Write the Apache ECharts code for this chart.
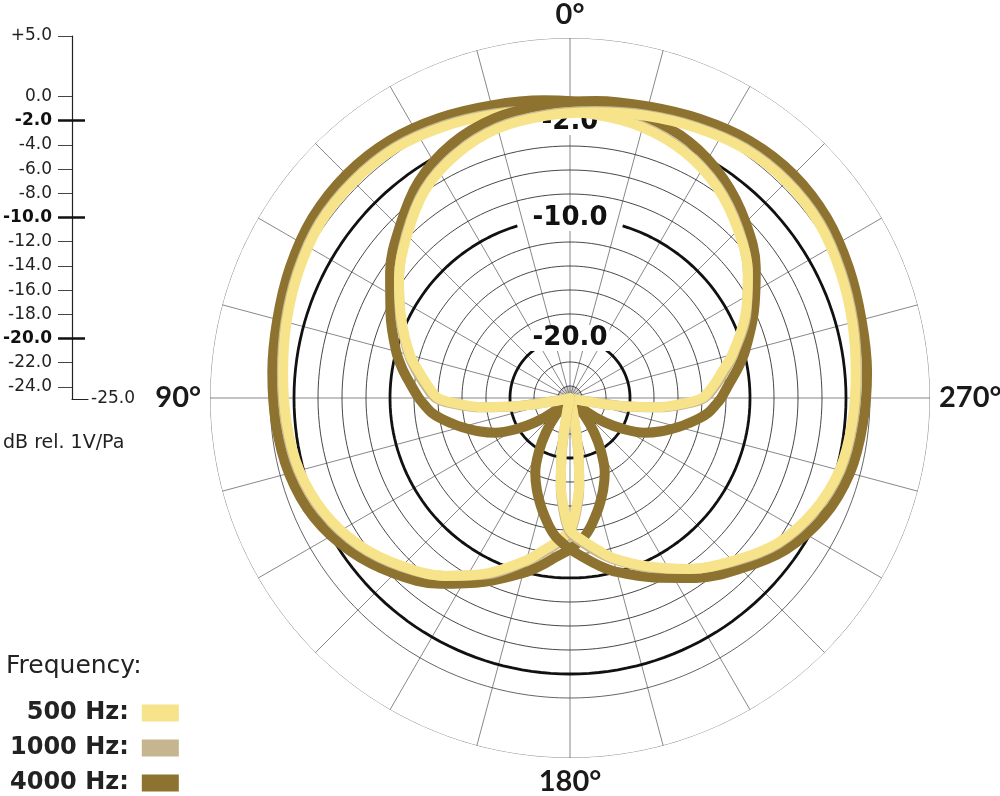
<!DOCTYPE html>
<html><head><meta charset="utf-8">
<script src="https://cdn.jsdelivr.net/npm/echarts@6/dist/echarts.min.js"></script>
<style>html,body{margin:0;padding:0;background:#fff}#c{width:1000px;height:796px}</style>
</head><body><div id="c"></div>
<script>
// Off-axis angle (degrees from capsule axis) and level (dB)
const offAxisAngles = [0, 10, 20, 30, 40, 50, 60, 70, 80, 90, 100, 110, 120, 125, 130, 135, 138, 141, 144, 147, 150, 155, 160, 165, 170, 175, 180];
// left capsule (aimed at 45°)
const level500Left   = [0.5, 0.4, -0.05, -0.55, -1.0, -1.3, -1.65, -2.4, -3.6, -5.2, -6.9, -8.9, -11.0, -12.1, -13.0, -14.0, -15.7, -17.7, -20.7, -23.8, -25, -25, -25, -25, -25, -25, -25];
const level1000Left  = [0.6, 0.5, 0.05, -0.45, -0.9, -1.2, -1.55, -2.3, -3.5, -5.1, -6.9, -8.8, -10.9, -11.9, -12.8, -13.8, -15.4, -17.6, -20.9, -24.2, -25, -25, -25, -25, -25, -25, -25];
const level4000Left  = [1.35, 1.2, 0.75, 0.25, -0.1, -0.4, -0.75, -1.45, -2.7, -4.3, -6.1, -8.1, -9.9, -10.8, -11.7, -12.4, -12.9, -13.4, -14.1, -14.9, -15.65, -16.9, -18.15, -19.8, -21.5, -23.2, -25.0];
// right capsule (aimed at 315°)
const level500Right  = [0.5, 0.35, -0.15, -0.65, -1.1, -1.4, -1.75, -2.6, -3.9, -5.8, -7.6, -9.5, -11.2, -12.2, -13.1, -14.0, -15.7, -17.7, -20.7, -23.8, -25, -25, -25, -25, -25, -25, -25];
const level1000Right = [0.6, 0.45, -0.05, -0.55, -1.0, -1.3, -1.65, -2.5, -3.8, -5.7, -7.6, -9.4, -11.1, -12.0, -12.9, -13.8, -15.4, -17.6, -20.9, -24.2, -25, -25, -25, -25, -25, -25, -25];
const level4000Right = [1.35, 1.15, 0.65, 0.15, -0.15, -0.5, -0.85, -1.65, -3.0, -4.9, -6.7, -8.5, -10.0, -10.8, -11.65, -12.4, -12.9, -13.4, -14.1, -14.9, -15.65, -16.9, -18.15, -19.8, -21.5, -23.2, -25.0];
const capsuleAxes = [45, 315];
const frequencies = ['500 Hz', '1000 Hz', '4000 Hz'];
const scaleTicks = [5, 0, -4, -6, -8, -12, -14, -16, -18, -22, -24];
const boldTicks = [-2, -10, -20];
const ringLevels = [-24, -22, -18, -16, -14, -12, -8, -6, -4, 0, 5];
const boldRings = [-20, -10, -2];
const boldRingGaps = [37, 17, 20];
const compassLabels = [0, 90, 180, 270];

const FONT = '"DejaVu Sans", sans-serif';
const colors = {'500 Hz': '#F7E38A', '1000 Hz': '#C5B690', '4000 Hz': '#8D7230'};
const capsuleLevels = [
  {'500 Hz': level500Left, '1000 Hz': level1000Left, '4000 Hz': level4000Left},
  {'500 Hz': level500Right, '1000 Hz': level1000Right, '4000 Hz': level4000Right}
];

function capsuleCurve(lv, axis) {
  const pts = [];
  for (let i = offAxisAngles.length - 1; i > 0; i--) pts.push([lv[i], ((axis - offAxisAngles[i]) % 360 + 360) % 360]);
  for (let i = 0; i < offAxisAngles.length; i++) pts.push([lv[i], ((axis + offAxisAngles[i]) % 360 + 360) % 360]);
  return pts;
}
function arc(r, from, to) {
  const d = [];
  for (let a = from; a <= to + 0.001; a += 2) d.push([r, a]);
  return d;
}

const series = [];
ringLevels.forEach(r => series.push({
  type: 'line', coordinateSystem: 'polar', polarIndex: 0, silent: true, z: 0,
  symbol: 'none', data: arc(r, 0, 360),
  lineStyle: {color: r === 5 ? '#777' : (r === 0 ? '#555' : '#333'), width: 0.9}
}));
boldRings.forEach((r, i) => series.push({
  type: 'line', coordinateSystem: 'polar', polarIndex: 0, silent: true, z: 0,
  symbol: 'none', data: arc(r, boldRingGaps[i], 360 - boldRingGaps[i]),
  lineStyle: {color: '#111', width: 2.8}
}));
let zc = 3;
capsuleAxes.forEach((ax, ci) => {
  ['4000 Hz', '1000 Hz', '500 Hz'].forEach(f => series.push({
    name: f, type: 'line', coordinateSystem: 'polar', polarIndex: 0, z: zc++,
    symbol: 'none', showSymbol: false, smooth: 0.35,
    data: capsuleCurve(capsuleLevels[ci][f], ax),
    itemStyle: {color: colors[f]},
    lineStyle: {color: colors[f], width: 10, cap: 'round', join: 'round'}
  }));
});

const option = {
  animation: false,
  backgroundColor: '#fff',
  textStyle: {fontFamily: FONT},
  title: [
    {text: 'dB rel. 1V/Pa', left: 3, top: 434, padding: 0, textStyle: {fontSize: 19, fontWeight: 'normal', color: '#222', fontFamily: FONT}},
    {text: 'Frequency:', left: 6, top: 654, padding: 0, textStyle: {fontSize: 25, fontWeight: 'normal', color: '#222', fontFamily: FONT}}
  ],
  legend: {
    data: frequencies, orient: 'vertical', left: 10, top: 701, padding: 0,
    align: 'right', icon: 'rect', itemWidth: 37, itemHeight: 17, itemGap: 11,
    formatter: n => '{a|' + n + ':}{s|}',
    textStyle: {fontFamily: FONT, color: '#222', rich: {
      a: {width: 118, align: 'right', fontSize: 24, fontWeight: 'bold', lineHeight: 26, color: '#222', fontFamily: FONT},
      s: {width: 8}
    }}
  },
  grid: {left: 70, top: 36, width: 18, height: 363},
  xAxis: {type: 'value', min: 0, max: 1, axisLine: {show: true, onZero: false, lineStyle: {color: '#222', width: 1.2}}, axisTick: {show: false}, axisLabel: {show: false}, splitLine: {show: false}},
  yAxis: [
    {type: 'value', min: -25, max: 5, position: 'left',
     axisLine: {show: true, onZero: false, lineStyle: {color: '#222', width: 1.2}},
     axisTick: {show: true, customValues: scaleTicks, length: 14, lineStyle: {color: '#444', width: 1}},
     axisLabel: {customValues: scaleTicks, margin: 20, fontSize: 17, color: '#222', fontFamily: FONT,
       formatter: v => (v > 0 ? '+' : '') + Number(v).toFixed(1)},
     splitLine: {show: false}},
    {type: 'value', min: -25, max: 5, position: 'left',
     axisLine: {show: false},
     axisTick: {show: true, customValues: boldTicks, length: 14, lineStyle: {color: '#111', width: 2.5}},
     axisLabel: {customValues: boldTicks, margin: 20, fontSize: 17, fontWeight: 'bold', color: '#111', fontFamily: FONT,
       formatter: v => Number(v).toFixed(1)},
     splitLine: {show: false}},
    {type: 'value', min: -25, max: 5, position: 'left',
     axisLine: {show: false},
     axisTick: {show: true, inside: true, customValues: boldTicks, length: 13, lineStyle: {color: '#111', width: 2.5}},
     axisLabel: {show: false}, splitLine: {show: false}},
    {type: 'value', min: -25, max: 5, position: 'right',
     axisLine: {show: false}, axisTick: {show: false},
     axisLabel: {customValues: [-25], margin: 3, fontSize: 17, color: '#222', fontFamily: FONT,
       formatter: v => Number(v).toFixed(1)},
     splitLine: {show: false}}
  ],
  polar: [{center: [570, 398], radius: 360}, {center: [570, 398], radius: 12}],
  angleAxis: [
    {polarIndex: 0, type: 'value', min: 0, max: 360, interval: 15, startAngle: 90, clockwise: false, z: 0,
     axisLine: {show: false}, axisTick: {show: false},
     splitLine: {show: true, lineStyle: {color: '#555', width: 0.7}},
     axisLabel: {customValues: compassLabels, formatter: v => v + '°', fontSize: 29, fontWeight: 'bold', color: '#1a1a1a', margin: 9, fontFamily: 'Lato, sans-serif'}},
    {polarIndex: 1, type: 'value', min: 0, max: 360, interval: 6, startAngle: 90, clockwise: false, z: 0,
     axisLine: {show: false}, axisTick: {show: false}, axisLabel: {show: false},
     splitLine: {show: true, lineStyle: {color: '#777', width: 0.4}}}
  ],
  radiusAxis: [
    {polarIndex: 0, type: 'value', min: -25, max: 5, z: 1,
     axisLine: {show: false}, axisTick: {show: false}, splitLine: {show: false},
     axisLabel: {customValues: boldRings, formatter: v => Number(v).toFixed(1), margin: 0, align: 'center', verticalAlign: 'middle',
       fontSize: 26, fontWeight: 'bold', color: '#111', fontFamily: FONT, backgroundColor: '#fff', padding: [0, 2]}},
    {polarIndex: 1, type: 'value', min: 0, max: 1, axisLine: {show: false}, axisTick: {show: false}, axisLabel: {show: false}, splitLine: {show: false}}
  ],
  series: series
};
const chart = echarts.init(document.getElementById('c'), null, {renderer: 'canvas'});
chart.setOption(option);
</script></body></html>
